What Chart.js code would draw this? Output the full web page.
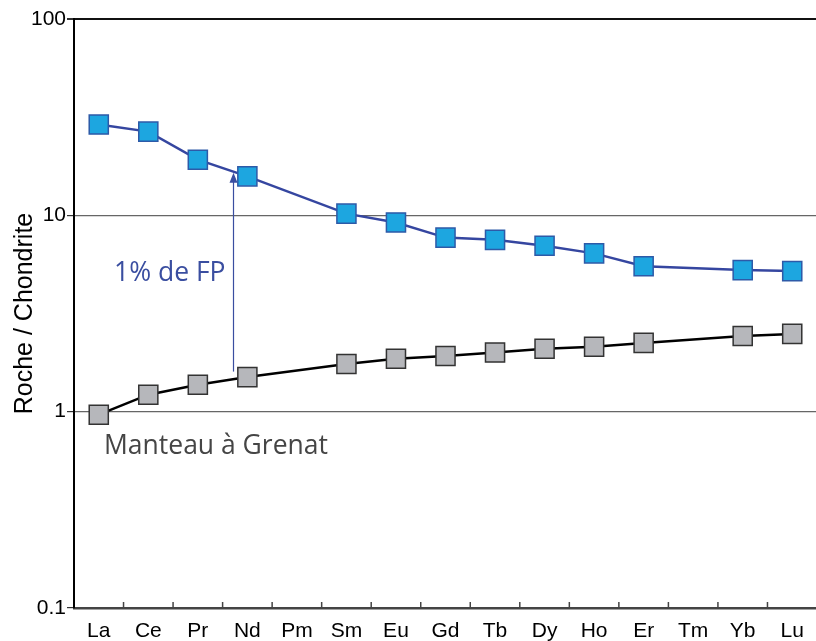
<!DOCTYPE html>
<html>
<head>
<meta charset="utf-8">
<script src="https://cdn.jsdelivr.net/npm/chart.js@4/dist/chart.umd.min.js"></script>
<style>
html,body{margin:0;padding:0;background:#fff;overflow:hidden;width:816px;height:641px;}
#wrap{width:816px;height:641px;overflow:hidden;position:relative;}
canvas{display:block;}
</style>
</head>
<body>
<div id="wrap"><canvas id="c" width="832" height="641"></canvas></div>
<script>
const categories = ['La','Ce','Pr','Nd','Pm','Sm','Eu','Gd','Tb','Dy','Ho','Er','Tm','Yb','Lu'];
const fpValues = [29.0, 26.7, 19.2, 15.8, null, 10.2, 9.2, 7.7, 7.5, 7.0, 6.4, 5.5, null, 5.26, 5.2];
const mantleValues = [0.965, 1.22, 1.37, 1.5, null, 1.75, 1.86, 1.92, 2.0, 2.09, 2.14, 2.24, null, 2.43, 2.49];
const yTickValues = [0.1, 1, 10, 100];
const yTickLabels = ['0.1', '1', '10', '100'];
const yTitle = 'Roche / Chondrite';
const fpLabel = '1% de FP';
const mantleLabel = 'Manteau à Grenat';
// arrow in data coordinates: x as fractional category index, y values
const arrowX = 2.71;
const arrowFrom = 1.6;
const arrowTo = 16.5;

const annot = {
  id: 'annot',
  afterDatasetsDraw(chart) {
    const ctx = chart.ctx;
    const xs = chart.scales.x, ys = chart.scales.y;
    const area = chart.chartArea;
    ctx.save();
    // inner x ticks between categories
    ctx.strokeStyle = '#444';
    ctx.lineWidth = 1.5;
    for (let i = 0; i < categories.length - 1; i++) {
      const x = (xs.getPixelForValue(i) + xs.getPixelForValue(i + 1)) / 2;
      ctx.beginPath();
      ctx.moveTo(x, area.bottom);
      ctx.lineTo(x, area.bottom - 6);
      ctx.stroke();
    }
    // arrow
    const ax = Math.round(xs.getPixelForValue(arrowX)) + 0.5;
    const y0 = ys.getPixelForValue(arrowFrom);
    const y1 = ys.getPixelForValue(arrowTo);
    ctx.strokeStyle = '#3a4ea0';
    ctx.fillStyle = '#3a4ea0';
    ctx.lineWidth = 1.2;
    ctx.beginPath();
    ctx.moveTo(ax, y0);
    ctx.lineTo(ax, y1 + 8);
    ctx.stroke();
    ctx.beginPath();
    ctx.moveTo(ax, y1);
    ctx.lineTo(ax - 4, y1 + 10);
    ctx.lineTo(ax + 4, y1 + 10);
    ctx.closePath();
    ctx.fill();
    // texts
    ctx.textBaseline = 'alphabetic';
    ctx.textAlign = 'left';
    ctx.font = '26.5px "Open Sans", "Noto Sans", sans-serif';
    ctx.fillStyle = '#3a4ea0';
    ctx.fillText(fpLabel, 114, 281);
    ctx.fillStyle = '#454545';
    ctx.fillText(mantleLabel, 104, 454);
    ctx.restore();
  }
};

new Chart(document.getElementById('c'), {
  type: 'line',
  data: {
    labels: categories,
    datasets: [
      {
        data: mantleValues,
        borderColor: '#000',
        borderWidth: 2.5,
        pointStyle: 'rect',
        pointRadius: 13.5,
        pointHoverRadius: 13.5,
        pointBackgroundColor: '#b6b7bb',
        pointBorderColor: '#333',
        pointBorderWidth: 1.5,
        spanGaps: true,
        tension: 0
      },
      {
        data: fpValues,
        borderColor: '#3546a0',
        borderWidth: 2.5,
        pointStyle: 'rect',
        pointRadius: 13.5,
        pointHoverRadius: 13.5,
        pointBackgroundColor: '#1da6e0',
        pointBorderColor: '#2d5aa8',
        pointBorderWidth: 1.5,
        spanGaps: true,
        tension: 0
      }
    ]
  },
  options: {
    responsive: false,
    animation: false,
    events: [],
    layout: { padding: { top: 19, right: 8, left: 0, bottom: 0 } },
    plugins: { legend: { display: false }, tooltip: { enabled: false } },
    scales: {
      x: {
        offset: true,
        grid: { display: false },
        border: { display: true, color: '#444', width: 2.5 },
        ticks: { color: '#000', font: { family: 'Liberation Sans, Arial, sans-serif', size: 21 }, padding: 3, autoSkip: false, maxRotation: 0 },
        afterFit(s) { s.height = 33; }
      },
      y: {
        type: 'logarithmic',
        min: 0.1,
        max: 100,
        afterBuildTicks(s) { s.ticks = yTickValues.map(v => ({ value: v })); },
        afterFit(s) { s.width = 74; },
        border: { display: true, color: '#000', width: 2 },
        grid: {
          color: c => c.tick && c.tick.value === 100 ? '#111' : (c.tick && c.tick.value === 0.1 ? 'rgba(0,0,0,0)' : '#666'),
          lineWidth: c => c.tick && c.tick.value === 100 ? 2 : 1.2,
          tickColor: '#333',
          tickLength: 7,
          drawTicks: true
        },
        ticks: {
          color: '#000',
          font: { family: 'Liberation Sans, Arial, sans-serif', size: 21 },
          padding: 1,
          callback: (v) => { const i = yTickValues.indexOf(v); return i >= 0 ? yTickLabels[i] : ''; }
        },
        title: {
          display: true,
          text: yTitle,
          color: '#000',
          font: { family: 'Liberation Sans, Arial, sans-serif', size: 25 },
          padding: { top: 10, bottom: 0 }
        }
      }
    }
  },
  plugins: [annot]
});
</script>
</body>
</html>
